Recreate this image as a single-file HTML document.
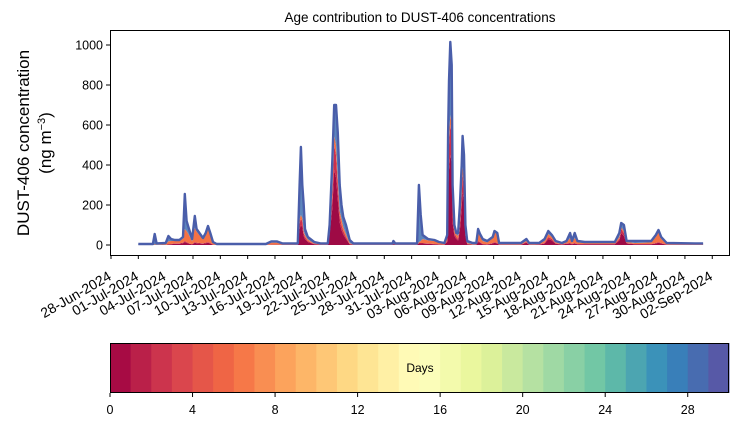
<!DOCTYPE html>
<html><head><meta charset="utf-8">
<style>
html,body{margin:0;padding:0;background:#fff;}
svg{display:block;font-family:"Liberation Sans",sans-serif;}
</style></head>
<body>
<svg id="chart" width="739" height="425" viewBox="0 0 739 425" xmlns="http://www.w3.org/2000/svg">
<text x="420" y="22" font-size="13.5" text-anchor="middle">Age contribution to DUST-406 concentrations</text>
<g font-size="17" text-anchor="middle">
<text transform="translate(29,143) rotate(-90)">DUST-406 concentration</text>
<text transform="translate(51,143) rotate(-90)">(ng m<tspan baseline-shift="super" font-size="11">−3</tspan>)</text>
</g>
<g id="plot"></g>
<g id="yaxis"></g>
<g id="xaxis"></g>
<rect x="110.5" y="30.5" width="619" height="225" fill="none" stroke="#000" stroke-width="1"/>
<g id="cbar"></g>
</svg>
<script>
const days=[3.0,4.6,4.8,5.0,6.0,6.3,6.6,7.0,7.5,7.9,8.1,8.3,8.5,8.9,9.2,9.4,9.7,10.1,10.4,10.65,10.9,11.2,11.6,17.0,17.6,18.2,18.8,20.5,20.7,20.85,21.0,21.15,21.3,21.6,22.3,23.0,23.8,24.0,24.3,24.5,24.7,24.9,25.1,25.3,25.5,25.8,26.2,26.6,30.9,31.0,31.2,33.6,33.8,34.0,34.2,34.8,35.5,36.0,36.6,36.9,37.0,37.1,37.25,37.4,37.5,37.7,37.9,38.1,38.3,38.5,38.6,38.75,38.9,39.1,39.7,40.1,40.3,40.5,40.8,41.3,41.9,42.1,42.4,42.6,44.4,45.0,45.6,45.9,46.5,47.0,47.6,48.0,48.4,48.8,49.5,50.0,50.4,50.6,50.9,51.2,52.0,53.5,55.3,55.8,56.0,56.3,56.6,57.5,59.3,59.8,60.1,60.4,61.0,64.1,65.0];
const total=[5,5,55,8,10,45,30,25,25,40,255,120,90,30,145,80,60,35,60,95,60,15,5,5,18,18,8,8,300,490,300,200,80,40,15,8,8,100,430,700,700,560,300,200,140,100,25,8,8,20,8,8,300,150,50,30,25,15,10,50,550,820,1015,900,300,100,60,60,200,400,545,450,100,20,10,10,80,55,30,20,40,70,60,10,10,10,30,10,10,10,30,70,50,20,10,20,60,20,60,20,15,15,15,60,110,100,20,20,20,50,75,40,10,8,8];
const age0to2=[0,0,0,0,0,4,5,8,8,12,20,15,10,4,15,12,10,8,12,15,10,2,0,0,2,2,1,1,110,130,120,60,40,20,5,2,2,70,250,500,450,300,150,100,70,40,5,1,1,5,1,1,10,10,10,8,5,3,2,20,350,500,600,550,150,60,40,30,100,250,350,300,60,5,1,2,20,15,5,3,10,15,10,2,2,2,15,2,2,3,10,40,30,8,3,8,10,5,10,5,5,5,5,30,80,60,10,5,5,10,15,10,2,1,1];
const age2to8=[1,1,3,1,3,15,15,12,12,20,60,55,45,15,70,55,40,20,40,70,40,8,1,1,10,10,3,1,20,20,15,10,10,8,3,1,1,15,30,50,50,30,20,30,20,15,5,1,1,2,1,1,5,10,20,15,15,8,5,15,50,50,50,50,30,20,15,15,30,40,40,40,20,5,3,3,45,30,15,10,25,50,40,5,5,4,5,3,3,3,10,15,10,5,3,5,25,8,25,8,5,5,5,10,10,10,5,5,8,30,50,20,5,2,2];
const yTicks=[0,200,400,600,800,1000];
const xLabels=["28-Jun-2024","01-Jul-2024","04-Jul-2024","07-Jul-2024","10-Jul-2024","13-Jul-2024","16-Jul-2024","19-Jul-2024","22-Jul-2024","25-Jul-2024","28-Jul-2024","31-Jul-2024","03-Aug-2024","06-Aug-2024","09-Aug-2024","12-Aug-2024","15-Aug-2024","18-Aug-2024","21-Aug-2024","24-Aug-2024","27-Aug-2024","30-Aug-2024","02-Sep-2024"];
const cbTicks=[0,4,8,12,16,20,24,28];

const NS="http://www.w3.org/2000/svg";
const X=d=>111+9.11*d;
const Y=v=>245-0.2*v;
function mk(tag,attrs,parent){const e=document.createElementNS(NS,tag);for(const k in attrs)e.setAttribute(k,attrs[k]);parent.appendChild(e);return e;}
function area(lo,hi,fill,name){
  let d="M"+X(days[0])+","+Y(hi[0]);
  for(let i=1;i<days.length;i++)d+="L"+X(days[i]).toFixed(1)+","+Y(hi[i]).toFixed(1);
  for(let i=days.length-1;i>=0;i--)d+="L"+X(days[i]).toFixed(1)+","+Y(lo[i]).toFixed(1);
  const p=mk("path",{d:d+"Z",fill:fill,stroke:"none"},document.getElementById("plot"));
  
  
}
const zero=days.map(()=>0);
const c1=age0to2.map((v,i)=>Math.min(v,total[i]));
const c2=c1.map((v,i)=>Math.min(v+age2to8[i],total[i]));
const c1a=c1.map((v,i)=>v*0.75);
area(zero,c1a,"#9e0a45","area-age-0-1");
area(c1a,c1,"#cc2f4d","area-age-1-2");
area(c1,c2,"#f47245","area-age-2-8");
area(c2,total,"#5d86bd","area-age-8-30");
let ld="M"+X(days[0])+","+Y(total[0]);
for(let i=1;i<days.length;i++)ld+="L"+X(days[i]).toFixed(1)+","+Y(total[i]).toFixed(1);
const line=mk("path",{d:ld,fill:"none",stroke:"#4a5eaa","stroke-width":"2.4","stroke-linejoin":"round"},document.getElementById("plot"));



const ya=document.getElementById("yaxis");
yTicks.forEach(v=>{
  const t=mk("line",{x1:106,x2:110,y1:Y(v),y2:Y(v),stroke:"#000"},ya);
  
  
  const l=mk("text",{x:103,y:Y(v)+4.5,"font-size":"12.5","text-anchor":"end"},ya);
  l.textContent=v;
  
  
});
const xa=document.getElementById("xaxis");
xLabels.forEach((s,i)=>{
  const x=X(3*i);
  const t=mk("line",{x1:x,x2:x,y1:255,y2:259,stroke:"#000"},xa);
  
  
  const l=mk("text",{transform:`translate(${x-4},${270}) rotate(-30)`,"font-size":"14","text-anchor":"end","dominant-baseline":"hanging"},xa);
  l.textContent=s;
  
  
});

const spec=["#9e0142","#d53e4f","#f46d43","#fdae61","#fee08b","#ffffbf","#e6f598","#abdda4","#66c2a5","#3288bd","#5e4fa2"];
function hx(h){return [1,3,5].map(i=>parseInt(h.substr(i,2),16));}
function specAt(t){const p=t*10,i=Math.min(9,Math.floor(p)),f=p-i,a=hx(spec[i]),b=hx(spec[i+1]);return "rgb("+a.map((v,k)=>Math.round(v+(b[k]-v)*f)).join(",")+")";}
const cb=document.getElementById("cbar");
const cx0=110,cw=619,cy0=343,ch=50;
for(let i=0;i<30;i++){
  const r=mk("rect",{x:cx0+cw*i/30,y:cy0,width:cw/30+0.5,height:ch,fill:specAt((i+0.5)/30)},cb);
  
  
}
const fr=mk("rect",{x:cx0+0.5,y:cy0+0.5,width:cw-1,height:ch-1,fill:"none",stroke:"#000"},cb);


cbTicks.forEach(v=>{
  const x=cx0+cw*v/30;
  const t=mk("line",{x1:x,x2:x,y1:cy0+ch,y2:cy0+ch+4,stroke:"#000"},cb);
  
  
  const l=mk("text",{x:x,y:414,"font-size":"12.5","text-anchor":"middle"},cb);
  l.textContent=v;
  
  
});
const dl=mk("text",{x:420,y:372,"font-size":"12","text-anchor":"middle"},cb);
dl.textContent="Days";


</script>
</body></html>
